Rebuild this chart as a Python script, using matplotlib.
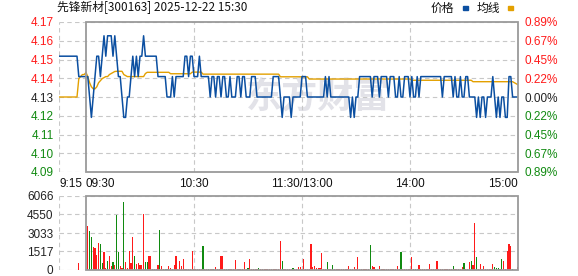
import matplotlib
matplotlib.use("Agg")
import matplotlib.pyplot as plt
import numpy as np
from matplotlib.patches import Rectangle

# ---------------- data ----------------
title = "先锋新材[300163] 2025-12-22 15:30"
prev_close = 4.13
pct_limit = 0.0089

price_labels = ["4.17", "4.16", "4.15", "4.14", "4.13", "4.12", "4.11", "4.10", "4.09"]
pct_labels = ["0.89%", "0.67%", "0.45%", "0.22%", "0.00%", "0.22%", "0.45%", "0.67%", "0.89%"]
vol_ticks = [0, 1517, 3033, 4550, 6066]
time_ticks = [-15, 0, 60, 120, 180, 240]
time_labels = ["9:15", "09:30", "10:30", "11:30/13:00", "14:00", "15:00"]

pre_minutes = [-15, -14, -13, -12, -11, -10, -9, -8, -7, -6, -5, -4, -3, -2, -1, 0]
pre_price = [4.15, 4.15, 4.15, 4.15, 4.15, 4.15, 4.15, 4.15, 4.15, 4.15, 4.15,
             4.14, 4.14, 4.14, 4.14, 4.14]
pre_avg = [4.13, 4.13, 4.13, 4.13, 4.13, 4.13, 4.13, 4.13, 4.13, 4.13, 4.13,
           4.139, 4.140, 4.141, 4.141, 4.142]
pre_vol = [0, 0, 0, 0, 0, 0, 0, 0, 0, 0, 0, 600, 0, 0, 0, 0]

price = [
    4.14, 4.14, 4.13, 4.12, 4.13, 4.14, 4.15, 4.15, 4.14, 4.15,
    4.16, 4.15, 4.16, 4.16, 4.16, 4.15, 4.16, 4.15, 4.14, 4.14,
    4.13, 4.12, 4.12, 4.13, 4.13, 4.14, 4.15, 4.14, 4.15, 4.14,
    4.15, 4.15, 4.16, 4.15, 4.15, 4.15, 4.15, 4.15, 4.15, 4.15,
    4.14, 4.14, 4.14, 4.14, 4.14, 4.13, 4.13, 4.13, 4.14, 4.13,
    4.14, 4.14, 4.14, 4.14, 4.14, 4.15, 4.15, 4.14, 4.15, 4.15,
    4.14, 4.14, 4.14, 4.15, 4.14, 4.14, 4.14, 4.14, 4.14, 4.13,
    4.14, 4.14, 4.13, 4.14, 4.14, 4.13, 4.14, 4.14, 4.13, 4.13,
    4.14, 4.13, 4.13, 4.13, 4.14, 4.14, 4.13, 4.14, 4.14, 4.13,
    4.13, 4.13, 4.14, 4.14, 4.14, 4.13, 4.13, 4.13, 4.13, 4.13,
    4.13, 4.13, 4.13, 4.13, 4.14, 4.14, 4.14, 4.14, 4.13, 4.12,
    4.13, 4.13, 4.13, 4.13, 4.12, 4.13, 4.13, 4.13, 4.13, 4.13,
    4.14, 4.14, 4.14, 4.13, 4.13, 4.13, 4.13, 4.13, 4.13, 4.13,
    4.13, 4.13, 4.13, 4.14, 4.13, 4.14, 4.13, 4.13, 4.13, 4.13,
    4.13, 4.13, 4.13, 4.13, 4.13, 4.13, 4.13, 4.12, 4.13, 4.12,
    4.13, 4.13, 4.14, 4.14, 4.14, 4.14, 4.14, 4.14, 4.14, 4.13,
    4.14, 4.14, 4.14, 4.13, 4.14, 4.14, 4.14, 4.14, 4.13, 4.14,
    4.14, 4.14, 4.13, 4.13, 4.14, 4.13, 4.13, 4.14, 4.14, 4.14,
    4.13, 4.14, 4.13, 4.13, 4.14, 4.13, 4.14, 4.14, 4.14, 4.14,
    4.14, 4.14, 4.14, 4.14, 4.14, 4.14, 4.14, 4.14, 4.13, 4.14,
    4.14, 4.14, 4.14, 4.14, 4.13, 4.14, 4.13, 4.13, 4.14, 4.13,
    4.13, 4.14, 4.14, 4.13, 4.13, 4.13, 4.13, 4.12, 4.13, 4.12,
    4.13, 4.13, 4.12, 4.13, 4.13, 4.13, 4.14, 4.13, 4.12, 4.13,
    4.12, 4.13, 4.13, 4.12, 4.12, 4.14, 4.14, 4.13, 4.13, 4.13,
    4.13,
]

avg = [
    4.142, 4.140, 4.137, 4.135, 4.134, 4.134, 4.135, 4.137, 4.138, 4.139,
    4.1395, 4.140, 4.140, 4.141, 4.1415, 4.142, 4.1425, 4.1426, 4.1426, 4.1426,
    4.1426, 4.141, 4.1405, 4.140, 4.140, 4.140, 4.140, 4.140, 4.140, 4.140,
    4.140, 4.140, 4.140, 4.1415, 4.1421, 4.1421, 4.1421, 4.1421, 4.1421, 4.1421,
    4.1421, 4.1421, 4.1421, 4.1421, 4.1421, 4.1421, 4.1421, 4.1414, 4.1414, 4.1414,
    4.1414, 4.1414, 4.1414, 4.1414, 4.1414, 4.1414, 4.1414, 4.1414, 4.1414, 4.1422,
    4.1422, 4.1422, 4.1422, 4.1422, 4.1422, 4.1412, 4.1412, 4.1412, 4.1412, 4.1412,
    4.1412, 4.1412, 4.1412, 4.1412, 4.1412, 4.1412, 4.1412, 4.1412, 4.1412, 4.1412,
    4.1412, 4.1412, 4.1412, 4.1412, 4.1412, 4.1412, 4.1412, 4.1412, 4.1412, 4.1412,
    4.1412, 4.1412, 4.1412, 4.1412, 4.1412, 4.1412, 4.1412, 4.1412, 4.1412, 4.1412,
    4.1412, 4.1412, 4.1412, 4.1412, 4.1412, 4.1412, 4.1412, 4.1412, 4.1399, 4.1399,
    4.1399, 4.1399, 4.1399, 4.1399, 4.1399, 4.1399, 4.1399, 4.1399, 4.1399, 4.1399,
    4.1399, 4.1399, 4.1399, 4.1399, 4.1388, 4.1388, 4.1388, 4.1388, 4.1388, 4.1388,
    4.1388, 4.1388, 4.1388, 4.1388, 4.1388, 4.1388, 4.1388, 4.1388, 4.1388, 4.1388,
    4.1388, 4.1388, 4.1388, 4.1388, 4.1388, 4.1388, 4.1388, 4.1388, 4.1388, 4.1388,
    4.1388, 4.1388, 4.1388, 4.1388, 4.1388, 4.1388, 4.1388, 4.1388, 4.1388, 4.1388,
    4.1388, 4.1388, 4.1388, 4.1388, 4.1388, 4.1388, 4.1388, 4.1388, 4.1388, 4.1388,
    4.1388, 4.1388, 4.1388, 4.1388, 4.1388, 4.1388, 4.1388, 4.1388, 4.1388, 4.1388,
    4.1388, 4.1382, 4.1382, 4.1382, 4.1382, 4.1382, 4.1382, 4.1382, 4.1382, 4.1382,
    4.1382, 4.1382, 4.1382, 4.1382, 4.1382, 4.1382, 4.1382, 4.1382, 4.1382, 4.1382,
    4.1382, 4.1382, 4.1382, 4.1382, 4.1382, 4.1382, 4.1382, 4.1382, 4.1382, 4.1382,
    4.1382, 4.1382, 4.1382, 4.1382, 4.1382, 4.1375, 4.1375, 4.1375, 4.1375, 4.1375,
    4.1375, 4.1375, 4.1375, 4.1375, 4.1375, 4.1375, 4.1375, 4.1375, 4.1375, 4.1375,
    4.1375, 4.1375, 4.1375, 4.1375, 4.1375, 4.1375, 4.1375, 4.1375, 4.137, 4.1365,
    4.136,
]

volume = [
    0, 3608, 3198, 2706, 1859, 1777, 1230, 2241, 2132, 600,
    1476, 137, 738, 1148, 328, 656, 410, 4510, 1476, 328,
    164, 5576, 656, 137, 1558, 547, 2706, 1148, 492, 547,
    437, 410, 4565, 683, 683, 1148, 1148, 110, 110, 100,
    410, 3280, 328, 82, 82, 82, 328, 164, 110, 383,
    1148, 100, 738, 328, 902, 100, 100, 100, 100, 1585,
    100, 100, 100, 100, 100, 1968, 100, 100, 100, 100,
    100, 100, 273, 100, 100, 1148, 1148, 100, 100, 100,
    100, 100, 100, 820, 100, 100, 100, 100, 656, 100,
    170, 910, 100, 100, 100, 100, 200, 100, 100, 100,
    100, 100, 100, 100, 100, 100, 100, 100, 2378, 738,
    100, 100, 100, 100, 100, 180, 100, 100, 260, 260,
    100, 902, 100, 100, 100, 2132, 250, 330, 160, 160,
    160, 1394, 100, 100, 656, 100, 100, 410, 100, 100,
    100, 100, 100, 100, 100, 100, 330, 100, 100, 270,
    100, 1066, 100, 100, 100, 100, 100, 100, 2050, 330,
    220, 100, 100, 330, 100, 100, 100, 100, 100, 100,
    100, 100, 100, 330, 100, 1476, 100, 100, 100, 100,
    100, 1066, 100, 100, 100, 410, 100, 100, 100, 100,
    100, 490, 100, 100, 100, 738, 100, 100, 100, 100,
    100, 100, 100, 100, 330, 100, 100, 100, 100, 250,
    570, 100, 100, 656, 738, 410, 3854, 1066, 100, 490,
    100, 330, 100, 100, 100, 100, 490, 250, 150, 150,
    100, 902, 738, 100, 1558, 2132, 1968, 100, 0, 0,
    270,
]

green_minutes = [2, 3, 8, 9, 12, 15, 17, 18, 21, 27, 33, 34, 41, 44, 45, 65, 68, 71,
                 78, 79, 90, 96, 109, 115, 134, 137, 158, 175, 182, 183, 184, 204,
                 210, 214, 217, 227, 228, 229, 231, 237]

# ---------------- styling ----------------
W, H = 578, 276
RED = "#ff1a1a"
GREEN = "#108a10"
DARK = "#222222"
BLUE = "#0b4fa1"
ORANGE = "#e3a000"
GRID = "#c8c8c8"
FRAME = "#9a9a9a"
NUMFONT = "Liberation Sans"
CJK = ["Noto Sans CJK SC", "DejaVu Sans"]

fig = plt.figure(figsize=(W / 100, H / 100), dpi=100)
fig.patch.set_facecolor("white")


def rect(x0, y0, x1, y1):
    return [x0 / W, 1 - y1 / H, (x1 - x0) / W, (y1 - y0) / H]


ax = fig.add_axes(rect(59, 22, 518, 172))
axv = fig.add_axes(rect(59, 196, 518, 270))

minutes = np.arange(len(price))
xmin, xmax = time_ticks[0], time_ticks[-1]

# ---- price panel ----
span = prev_close * pct_limit
ylo, yhi = prev_close - span, prev_close + span
levels = [prev_close + span * k / 4 for k in range(4, -5, -1)]

for a in (ax, axv):
    a.set_xlim(xmin, xmax)
    a.patch.set_alpha(0)
    for s in a.spines.values():
        s.set_visible(False)

ax.set_ylim(ylo, yhi)
for lv in levels:
    ax.axhline(lv, color=GRID, lw=0.8, dashes=(4, 3), zorder=1)
for xv in (xmin, 60, 120, 180):
    ax.axvline(xv, color=GRID, lw=0.8, dashes=(4, 3), zorder=1)
ax.add_patch(Rectangle((0, ylo), 240, yhi - ylo, fill=False, edgecolor=FRAME,
                       lw=1.3, zorder=6, clip_on=False))

# watermark
ax.text(318 / W, 1 - 97 / H, "东方财富", transform=fig.transFigure, ha="center",
        va="center", fontsize=26, fontweight="bold", color="#e2e2e8",
        family=CJK, zorder=0.5)

ax.plot(pre_minutes, pre_avg, color=ORANGE, lw=1.0, zorder=3)
ax.plot(pre_minutes, pre_price, color=BLUE, lw=1.1, zorder=4)
ax.plot(minutes, avg, color=ORANGE, lw=1.0, zorder=3)
ax.plot(minutes, price, color=BLUE, lw=1.1, zorder=4)

label_colors = [RED] * 4 + [DARK] + [GREEN] * 4
ax.set_yticks(levels)
ax.set_yticklabels(price_labels)
ax.tick_params(axis="y", length=0, pad=4, labelsize=8.5)
for t, c in zip(ax.get_yticklabels(), label_colors):
    t.set_color(c)
    t.set_family(NUMFONT)

axr = ax.twinx()
axr.set_ylim(ylo, yhi)
for s in axr.spines.values():
    s.set_visible(False)
axr.set_yticks(levels)
axr.set_yticklabels(pct_labels)
axr.tick_params(axis="y", length=0, pad=5, labelsize=8.5)
for t, c in zip(axr.get_yticklabels(), label_colors):
    t.set_color(c)
    t.set_family(NUMFONT)

ax.set_xticks(time_ticks)
ax.set_xticklabels(time_labels)
ax.tick_params(axis="x", length=0, pad=4, labelsize=8.5, labelcolor="#111111")
aligns = ["left", "left", "center", "center", "center", "right"]
for t, ha in zip(ax.get_xticklabels(), aligns):
    t.set_ha(ha)
    t.set_family(NUMFONT)

# ---- volume panel ----
vmax = vol_ticks[-1]
axv.set_ylim(0, vmax)
for lv in vol_ticks:
    axv.axhline(lv, color=GRID, lw=0.8, dashes=(4, 3), zorder=1)
for xv in (xmin, 60, 120, 180):
    axv.axvline(xv, color=GRID, lw=0.8, dashes=(4, 3), zorder=1)
axv.add_patch(Rectangle((0, 0), 240, vmax, fill=False, edgecolor=FRAME,
                        lw=1.3, zorder=6, clip_on=False))

vol_colors = [GREEN if m in green_minutes else RED for m in minutes]
axv.bar(minutes, volume, width=0.6, color=vol_colors, zorder=3, linewidth=0)
axv.bar(pre_minutes, pre_vol, width=0.6, color=RED, zorder=3, linewidth=0)
axv.set_yticks(vol_ticks)
axv.set_yticklabels([str(v) for v in vol_ticks])
axv.tick_params(axis="y", length=0, pad=4, labelsize=8.5, labelcolor=DARK)
for t in axv.get_yticklabels():
    t.set_family(NUMFONT)
axv.set_xticks([])

# ---- title & legend ----
fig.text(57 / W, 1 - 8 / H, title, ha="left", va="center", fontsize=8.5,
         family=CJK, color="#111111")
fig.text(431 / W, 1 - 8 / H, "价格", ha="left", va="center", fontsize=8.5,
         family=CJK, color="#111111")
fig.add_artist(Rectangle((463 / W, 1 - 9.5 / H), 5 / W, 3 / H,
                         transform=fig.transFigure, color=BLUE))
fig.text(477 / W, 1 - 8 / H, "均线", ha="left", va="center", fontsize=8.5,
         family=CJK, color="#111111")
fig.add_artist(Rectangle((508 / W, 1 - 9.5 / H), 5 / W, 3 / H,
                         transform=fig.transFigure, color=ORANGE))

fig.savefig("out.png", dpi=100)
